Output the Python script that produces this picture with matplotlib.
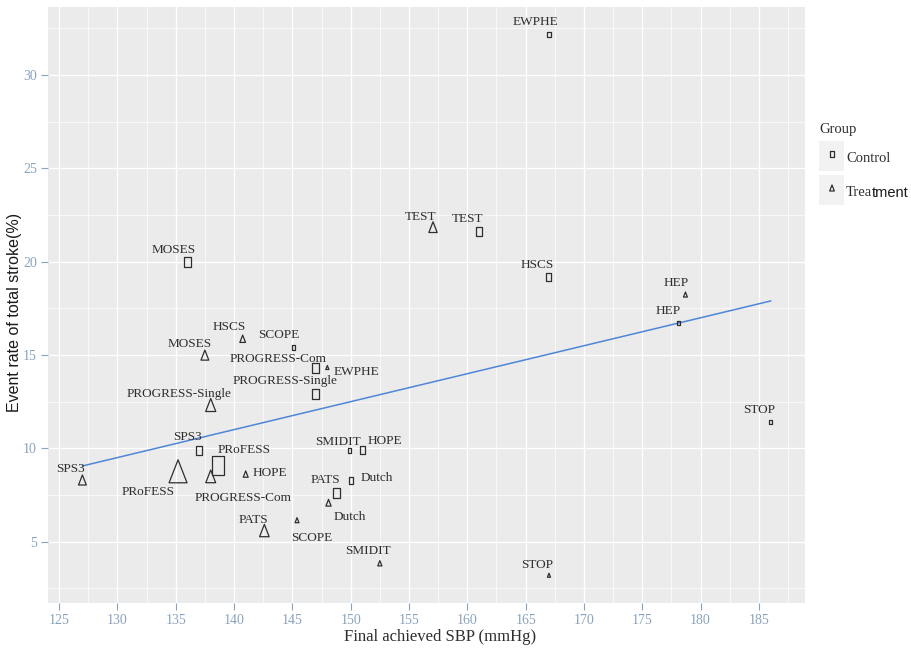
import matplotlib
import matplotlib.pyplot as plt
import numpy as np
from matplotlib.path import Path
from matplotlib.patches import Rectangle

matplotlib.use('Agg')

# control arm of each trial
ctrl_names = ["EWPHE", "TEST", "HSCS", "MOSES", "SCOPE", "PROGRESS-Com", "PROGRESS-Single",
              "SPS3", "PRoFESS", "SMIDIT", "HOPE", "Dutch", "PATS", "HEP", "STOP"]
ctrl_sbp = [167.0, 161.0, 167.0, 136.0, 145.1, 147.0, 147.0,
            137.0, 138.6, 149.9, 151.0, 150.0, 148.8, 178.1, 186.0]
ctrl_rate = [32.2, 21.6, 19.2, 20.0, 15.4, 14.3, 12.9,
             9.9, 9.1, 9.9, 9.9, 8.3, 7.6, 16.7, 11.4]
ctrl_size = [5, 9, 7.7, 10, 5.7, 10, 10, 9, 19, 5, 7.7, 6.7, 10, 4, 4]

# treatment arm of each trial
trt_names = ["TEST", "HEP", "HSCS", "MOSES", "EWPHE", "PROGRESS-Single", "SPS3", "PRoFESS",
             "PROGRESS-Com", "HOPE", "PATS", "SCOPE", "Dutch", "SMIDIT", "STOP"]
trt_sbp = [157.06, 178.7, 140.74, 137.5, 148.0, 138.0, 127.0, 135.2,
           138.0, 141.0, 142.6, 145.4, 148.1, 152.5, 167.0]
trt_rate = [21.76, 18.2, 15.81, 14.91, 14.3, 12.21, 8.22, 8.57,
            8.39, 8.57, 5.49, 6.11, 7.03, 3.80, 3.17]
trt_size = [10.7, 5, 7.3, 10, 4, 13, 10, 23, 12.7, 6.3, 12.3, 5, 6.7, 5.3, 4]

# fitted trend line
fit_sbp = [127.0, 186.0]
fit_rate = [9.06, 17.9]

# label offsets (pixels, right / down) relative to each point
ctrl_off = [(-13, -12), (-11, -13), (-12, -12), (-14, -12), (-15, -13), (-38, -9), (-31, -13),
            (-12, -13), (26, -15), (-12, -8), (23, -9), (26, -2), (-11, -13), (-10, -12), (-11, -12)]
trt_off = [(-12, -12), (-9, -12), (-13, -13), (-15, -13), (29, 4), (-32, -13), (-12, -13), (-30, 17),
           (32, 20), (24, -2), (-11, -13), (15, 17), (21, 13), (-12, -13), (-12, -11)]

# tall markers: square and triangle
square = Path([(-0.325, -0.5), (0.325, -0.5), (0.325, 0.5), (-0.325, 0.5), (-0.325, -0.5)],
              [Path.MOVETO, Path.LINETO, Path.LINETO, Path.LINETO, Path.CLOSEPOLY])
triangle = Path([(0, 1.0), (0.585, -0.5), (-0.585, -0.5), (0, 1.0)],
                [Path.MOVETO, Path.LINETO, Path.LINETO, Path.CLOSEPOLY])

DPI = 100
SERIF = 'Liberation Serif'
SANS = 'Liberation Sans'
TICK_COL = '#8aa3bd'
INK = '#2e2e2e'


def px_to_s(h, scale):
    pt = np.asarray(h) * 72.0 / DPI / scale
    return pt ** 2


fig = plt.figure(figsize=(9.11, 6.55), dpi=DPI)
W, H = 911, 655
ax = fig.add_axes([48 / W, (H - 603) / H, (805 - 48) / W, (603 - 7) / H])
ax.set_facecolor('#ebebeb')

all_x = np.array(ctrl_sbp + trt_sbp)
all_y = np.array(ctrl_rate + trt_rate)
xr = all_x.max() - all_x.min()
yr = all_y.max() - all_y.min()
ax.set_xlim(all_x.min() - 0.05 * xr, all_x.max() + 0.05 * xr)
ax.set_ylim(all_y.min() - 0.05 * yr, all_y.max() + 0.05 * yr)

ax.set_xticks(np.arange(125, 190, 5))
ax.set_yticks(np.arange(5, 35, 5))
ax.set_xticks(np.arange(127.5, 190, 5), minor=True)
ax.set_yticks(np.arange(2.5, 35, 5), minor=True)
ax.grid(which='major', color='white', lw=1.0)
ax.grid(which='minor', color='white', lw=0.5)
ax.set_axisbelow(True)
for s in ax.spines.values():
    s.set_visible(False)
ax.tick_params(which='major', length=5, width=0.8, color=TICK_COL, labelcolor=TICK_COL,
               labelsize=10, pad=3)
ax.tick_params(which='minor', length=0)
for lab in ax.get_xticklabels() + ax.get_yticklabels():
    lab.set_family(SERIF)

ax.plot(fit_sbp, fit_rate, color='#4f86d6', lw=1.1, zorder=2)

ax.scatter(ctrl_sbp, ctrl_rate, s=px_to_s(ctrl_size, 1.0), marker=square,
           facecolors='none', edgecolors=INK, linewidths=0.9, zorder=3)
ax.scatter(trt_sbp, trt_rate, s=px_to_s(trt_size, 0.75), marker=triangle,
           facecolors='none', edgecolors=INK, linewidths=0.9, zorder=3)

for names, xs, ys, offs in [(ctrl_names, ctrl_sbp, ctrl_rate, ctrl_off),
                            (trt_names, trt_sbp, trt_rate, trt_off)]:
    for name, x, y, (dx, dy) in zip(names, xs, ys, offs):
        ax.annotate(name, (x, y), xytext=(dx, -dy), textcoords='offset pixels',
                    ha='center', va='center', fontsize=9.5, family=SERIF, color=INK, zorder=4)

# axis titles
fig.text(440 / W, 1 - 637 / H, 'Final achieved SBP (mmHg)', ha='center', va='center',
         fontsize=12, family=SERIF, color=INK)
fig.text(15 / W, 1 - 312 / H, 'Event rate of total stroke(%)', rotation=90,
         ha='center', va='center', fontsize=11.5, family=SANS, color='#1a1a1a')

# legend
lax = fig.add_axes([0, 0, 1, 1], facecolor='none')
lax.set_xlim(0, W)
lax.set_ylim(H, 0)
lax.axis('off')
lax.text(819, 129, 'Group', ha='left', va='center', fontsize=10.5, family=SERIF, color=INK)
for ky in (156, 190):
    lax.add_patch(Rectangle((819, ky - 15), 25, 30, facecolor='#f2f2f2', edgecolor='none'))
lax.scatter([832], [154], s=px_to_s([6], 1.0), marker=square, facecolors='none',
            edgecolors=INK, linewidths=0.9, zorder=3)
lax.scatter([832], [189], s=px_to_s([6], 0.75), marker=triangle, facecolors='none',
            edgecolors=INK, linewidths=0.9, zorder=3)
lax.text(846, 159, 'Control', ha='left', va='center', fontsize=10.5, family=SERIF, color=INK)
tr = lax.text(846, 193, 'Trea', ha='left', va='center', fontsize=10.5, family=SERIF, color=INK)
lax.annotate('tment', xy=(1, 0.5), xycoords=tr, ha='left', va='center', fontsize=10.5,
             family=SANS, color='#1a1a1a')

fig.savefig('out.png', dpi=DPI)
plt.close()
